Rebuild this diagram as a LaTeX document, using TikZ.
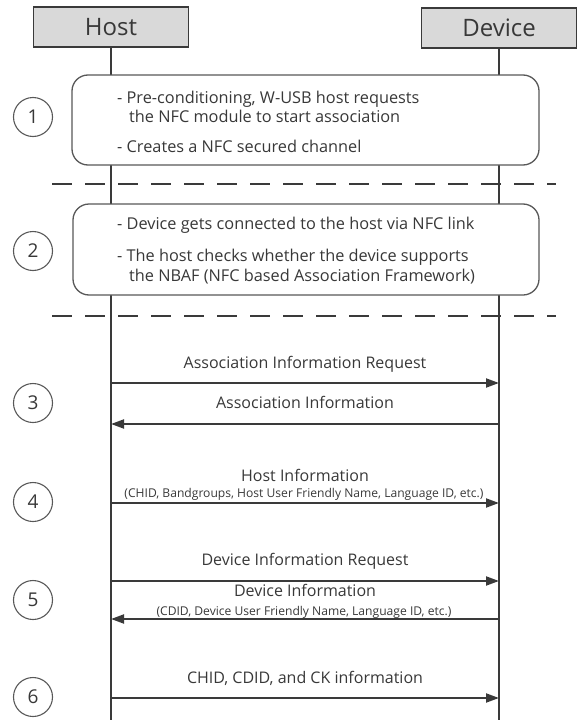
\documentclass[tikz,border=0pt]{standalone}
\usepackage{fontspec}
\setmainfont{Open Sans}
\usetikzlibrary{arrows.meta}
\definecolor{ink}{HTML}{3A3A3A}
\definecolor{txt}{HTML}{383838}
\definecolor{hdrfill}{HTML}{D9D9D9}
\tikzset{
  header/.style={draw=ink, line width=1.8pt, fill=hdrfill, minimum width=155pt,
    minimum height=40pt, inner sep=0pt, font=\fontsize{24}{26}\selectfont, text=txt},
  lifeline/.style={draw=ink, line width=2pt},
  phasebox/.style={draw=ink!85, line width=1.3pt, fill=white, rounded corners=16pt,
    inner sep=0pt},
  phaseline/.style={anchor=base west, inner sep=0pt, text=txt,
    font=\fontsize{16.3}{19}\selectfont},
  divider/.style={draw=ink, line width=1.5pt, dash pattern=on 20pt off 13pt},
  stepnum/.style={circle, draw=ink!85, line width=1.1pt, minimum size=39pt,
    inner sep=0pt, font=\fontsize{19}{20}\selectfont, text=txt},
  msg/.style={draw=ink, line width=2pt, -{Triangle[length=13pt, width=9pt]}},
  msglabel/.style={anchor=base, inner sep=0pt, text=txt,
    font=\fontsize{16}{18}\selectfont},
  msgsmall/.style={anchor=base, inner sep=0pt, text=txt,
    font=\fontsize{12.1}{14}\selectfont},
}
\begin{document}
\begin{tikzpicture}[x=1pt, y=-1pt]
\useasboundingbox (0,0) rectangle (581,720);

% participants
\node[header] (host) at (111,27) {Host};
\node[header] (device) at (499,28) {Device};
\coordinate (hostEnd) at (111,721);
\coordinate (deviceEnd) at (499,721);
\draw[lifeline] (host.south) -- (hostEnd);
\draw[lifeline] (device.south) -- (deviceEnd);

% phase separators
\coordinate (sepAl) at (52,184);  \coordinate (sepAr) at (556,184);
\coordinate (sepBl) at (52,316);  \coordinate (sepBr) at (556,316);
\draw[divider] (sepAl) -- (sepAr);
\draw[divider] (sepBl) -- (sepBr);

% phase 1
\node[phasebox, minimum width=467pt, minimum height=90pt] (phase1) at (305.5,120) {};
\node[phaseline] (p1a) at (117,103) {- Pre-conditioning, W-USB host requests};
\node[phaseline] (p1b) at (129,122) {the NFC module to start association};
\node[phaseline] (p1c) at (117,152) {- Creates a NFC secured channel};

% phase 2
\node[phasebox, minimum width=466pt, minimum height=91pt] (phase2) at (306,249.5) {};
\node[phaseline] (p2a) at (117,229) {- Device gets connected to the host via NFC link};
\node[phaseline] (p2b) at (117,261) {- The host checks whether the device supports};
\node[phaseline] (p2c) at (129,281) {the NBAF (NFC based Association Framework)};

% step numbers
\node[stepnum] (s1) at (33,117) {1};
\node[stepnum] (s2) at (33,251) {2};
\node[stepnum] (s3) at (33,403) {3};
\node[stepnum] (s4) at (33,502) {4};
\node[stepnum] (s5) at (33,600) {5};
\node[stepnum] (s6) at (33,697) {6};

% message end points on the lifelines
\foreach \n/\y in {a/383, b/424, c/503, d/581, e/619, f/698} {
  \coordinate (h\n) at (111,\y);
  \coordinate (d\n) at (499,\y);
}

% messages
\draw[msg] (ha) -- (da);
\node[msglabel] (la) at (305,368) {Association Information Request};
\draw[msg] (db) -- (hb);
\node[msglabel] (lb) at (305,408) {Association Information};
\draw[msg] (hc) -- (dc);
\node[msglabel] (lc) at (305,481) {Host Information};
\node[msgsmall] (lc2) at (304,497) {(CHID, Bandgroups, Host User Friendly Name, Language ID, etc.)};
\draw[msg] (hd) -- (dd);
\node[msglabel] (ld) at (305,565) {Device Information Request};
\draw[msg] (de) -- (he);
\node[msglabel] (le) at (305,596) {Device Information};
\node[msgsmall] (le2) at (304,615) {(CDID, Device User Friendly Name, Language ID, etc.)};
\draw[msg] (hf) -- (df);
\node[msglabel] (lf) at (305,683) {CHID, CDID, and CK information};
\end{tikzpicture}
\end{document}
